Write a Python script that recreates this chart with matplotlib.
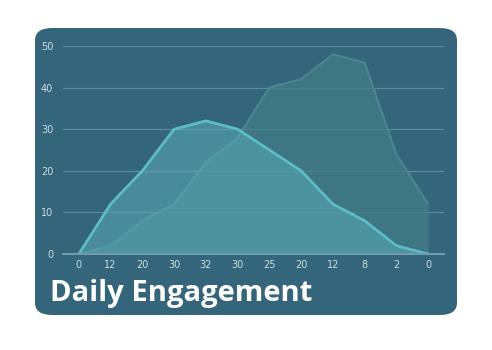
import matplotlib
matplotlib.use("Agg")
import matplotlib.pyplot as plt
from matplotlib.patches import FancyBboxPatch
import numpy as np

# data
labels = ["0", "12", "20", "30", "32", "30", "25", "20", "12", "8", "2", "0"]
series_a = [0, 12, 20, 30, 32, 30, 25, 20, 12, 8, 2, 0]
series_b = [0, 2, 8, 12, 22, 28, 40, 42, 48, 46, 24, 12]
yticks = [0, 10, 20, 30, 40, 50]

W, H = 492, 350
fig = plt.figure(figsize=(W / 100, H / 100), dpi=100)
fig.patch.set_facecolor("white")

# card background
card = FancyBboxPatch((35 / W, (H - 315) / H), (457 - 35) / W, (315 - 28) / H,
                      boxstyle="round,pad=0,rounding_size=0.035",
                      transform=fig.transFigure, facecolor="#34657a",
                      edgecolor="none", zorder=-1)
fig.patches.append(card)

ax = fig.add_axes([63 / W, (H - 254) / H, (444 - 63) / W, (254 - 46) / H])
ax.set_facecolor("none")
x = np.arange(len(labels))

ax.fill_between(x, series_b, color="#437f86", alpha=0.7, lw=0, zorder=2)
ax.plot(x, series_b, color="#4a878e", lw=1.5, zorder=3)
ax.fill_between(x, series_a, color="#5babb8", alpha=0.55, lw=0, zorder=4)
ax.plot(x, series_a, color="#5cbcc8", lw=2, zorder=5)

ax.set_xlim(-0.5, len(labels) - 0.5)
ax.set_ylim(0, 50)
ax.set_yticks(yticks)
ax.set_xticks(x)
ax.set_xticklabels(labels)
ax.grid(axis="y", color="#5b8c9c", lw=0.9)
ax.set_axisbelow(True)
for s in ["top", "right", "left"]:
    ax.spines[s].set_visible(False)
ax.spines["bottom"].set_color("#6f9cab")
ax.spines["bottom"].set_linewidth(1.5)
ax.spines["bottom"].set_zorder(6)
ax.tick_params(length=0, labelsize=7, colors="#cfdde2", pad=4)
ax.tick_params(axis="y", pad=7)

fig.text(50 / W, (H - 301) / H, "Daily Engagement", color="white",
         fontsize=21, fontweight="bold", family="Open Sans")

fig.savefig("out.png", dpi=100)
